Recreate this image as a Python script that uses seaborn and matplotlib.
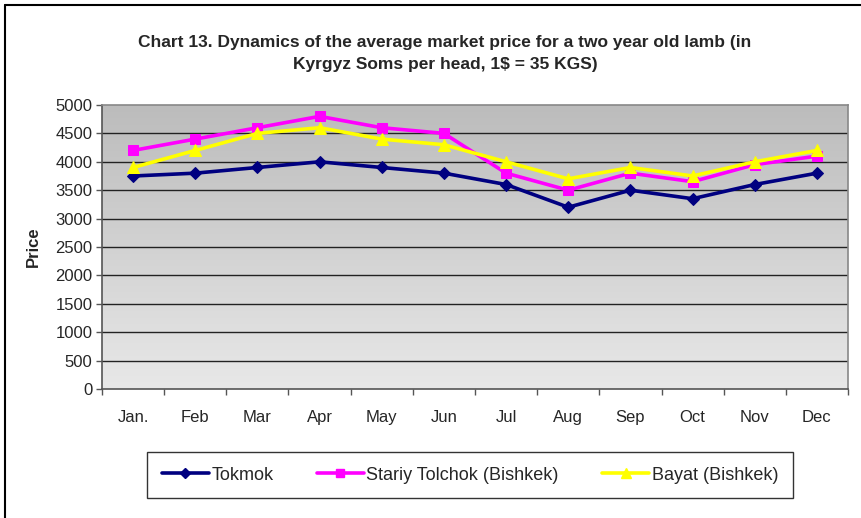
import numpy as np
import pandas as pd
import matplotlib
matplotlib.use("Agg")
import matplotlib.pyplot as plt
from matplotlib.lines import Line2D
import seaborn as sns

months = ["Jan.", "Feb", "Mar", "Apr", "May", "Jun", "Jul", "Aug", "Sep", "Oct", "Nov", "Dec"]
tokmok = [3750, 3800, 3900, 4000, 3900, 3800, 3600, 3200, 3500, 3350, 3600, 3800]
stariy = [4200, 4400, 4600, 4800, 4600, 4500, 3800, 3500, 3800, 3650, 3950, 4100]
bayat = [3900, 4200, 4500, 4600, 4400, 4300, 4000, 3700, 3900, 3750, 4000, 4200]
y_ticks = [0, 500, 1000, 1500, 2000, 2500, 3000, 3500, 4000, 4500, 5000]

series = [
    ("Tokmok", tokmok, "#000080", "D", 6),
    ("Stariy Tolchok (Bishkek)", stariy, "#FF00FF", "s", 7),
    ("Bayat (Bishkek)", bayat, "#FFFF00", "^", 8),
]

sns.set_theme(style="white")
plt.rcParams["font.family"] = ["Liberation Sans", "DejaVu Sans"]

fig = plt.figure(figsize=(8.62, 5.18), dpi=100)
ax = fig.add_axes([102 / 862, 1 - 389 / 518, 746 / 862, 284 / 518])

# gradient background of the plot area
grad = np.linspace(0, 1, 256).reshape(-1, 1)
ax.imshow(grad, extent=[-0.5, 11.5, 0, 5000], aspect="auto", origin="upper",
          cmap=matplotlib.colors.LinearSegmentedColormap.from_list("g", ["#bcbcbc", "#e8e8e8"]),
          zorder=0)

for yv in y_ticks[1:-1]:
    ax.axhline(yv, color="#222222", lw=1.0, zorder=1)

x = np.arange(len(months))
for name, vals, col, mk, ms in series:
    df = pd.DataFrame({"x": x, "y": vals})
    sns.lineplot(data=df, x="x", y="y", ax=ax, color=col, lw=2.6, marker=mk,
                 markersize=ms, markeredgecolor=col, sort=False, zorder=3)

ax.set_xlim(-0.5, 11.5)
ax.set_ylim(0, 5000)
ax.set_yticks(y_ticks)
ax.set_yticklabels([str(v) for v in y_ticks], fontsize=12)
ax.set_xticks(x)
ax.set_xticklabels(months, fontsize=12)
ax.set_xticks(np.arange(-0.5, 12, 1), minor=True)
ax.tick_params(axis="x", which="major", length=0, pad=15)
ax.tick_params(axis="x", which="minor", length=4, width=1, color="#555555", direction="out", bottom=True)
ax.tick_params(axis="y", length=4, width=1, color="#555555", direction="out", left=True, pad=3)
ax.set_xlabel("")
ax.set_ylabel("Price", fontsize=12, fontweight="bold", labelpad=10)
for s in ax.spines.values():
    s.set_color("#888888")
    s.set_linewidth(1.2)
ax.spines["left"].set_color("#555555")
ax.spines["bottom"].set_color("#555555")

fig.text(445 / 862, 1 - 42 / 518, "Chart 13. Dynamics of the average market price for a two year old lamb (in",
         ha="center", va="center", fontsize=12.5, fontweight="bold")
fig.text(445 / 862, 1 - 64 / 518, "Kyrgyz Soms per head, 1$ = 35 KGS)",
         ha="center", va="center", fontsize=12.5, fontweight="bold")

handles = [Line2D([], [], color=col, lw=2.6, marker=mk, markersize=ms - 1, markeredgecolor=col)
           for name, vals, col, mk, ms in series]
leg = fig.legend(handles, [s[0] for s in series], ncol=3, loc="center",
                 bbox_to_anchor=(470 / 862, 1 - 475 / 518), fontsize=13, frameon=True,
                 fancybox=False, edgecolor="black", handlelength=2.6, columnspacing=2.4,
                 handletextpad=0.15, borderpad=0.8)
leg.get_frame().set_linewidth(1.0)

# outer frame (left and top edges visible)
fig.add_artist(Line2D([5 / 862, 5 / 862], [0, 1 - 5 / 518], transform=fig.transFigure, color="black", lw=1.5))
fig.add_artist(Line2D([5 / 862, 1], [1 - 5 / 518, 1 - 5 / 518], transform=fig.transFigure, color="black", lw=1.5))

fig.savefig("out.png", dpi=100)
